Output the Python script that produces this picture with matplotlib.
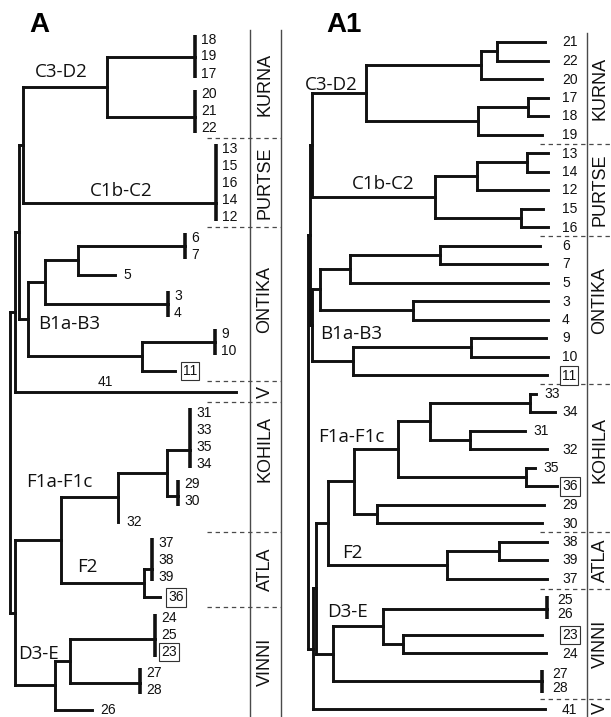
import matplotlib.pyplot as plt
from matplotlib.collections import LineCollection

plt.rcParams["font.family"] = ["Liberation Sans", "DejaVu Sans"]

# node = (depth, [children]); leaf = (depth, "id");
# collapsed leaves = (depth, ["id", ...]) or (depth, ["id", ...], attach index)
# depths are distances from the root of each tree
TREE_A = (0, [
    (5, [
        (9, [
            (13, [
                (97, [(185, ["18", "19", "17"]), (185, ["20", "21", "22"], 1.4)]),
                (206, ["13", "15", "16", "14", "12"], 3.2),
            ]),
            (18, [
                (35, [
                    (68, [(175, ["6", "7"]), (105, "5")]),
                    (158, ["3", "4"]),
                ]),
                (132, [(205, ["9", "10"]), (165, "11")]),
            ]),
        ]),
        (226, "41"),
    ]),
    (5, [
        (51, [
            (108, [
                (157, [(180, ["31", "33", "35", "34"], 2.2), (168, ["29", "30"], 0.7)]),
                (108, "32"),
            ]),
            (134, [(142, ["37", "38", "39"], 1.6), (150, "36")]),
        ]),
        (45, [
            (60, [(145, ["24", "25", "23"], 1.25), (130, ["27", "28"], 0.6)]),
            (82, "26"),
        ]),
    ]),
])

TREE_A1 = (0, [
    (2, [
        (4, [
            (58, [
                (173, [(189, [(237, "21"), (240, "22")]), (234, "20")]),
                (170, [(220, [(240, "17"), (240, "18")]), (234, "19")]),
            ]),
            (127, [
                (169, [(219, [(240, "13"), (240, "14")]), (240, "12")]),
                (213, [(235, "15"), (240, "16")]),
            ]),
        ]),
        (4, [
            (12, [
                (42, [(132, [(232, "6"), (239, "7")]), (240, "5")]),
                (105, [(240, "3"), (240, "4")]),
            ]),
            (45, [(163, [(238, "9"), (240, "10")]), (239, "11")]),
        ]),
    ]),
    (5, [
        (8, [
            (20, [
                (46, [
                    (90, [
                        (122, [(222, [(228, "33"), (247, "34")]),
                               (162, [(217, "31"), (239, "32")])]),
                        (218, [(227, "35"), (249, "36")]),
                    ]),
                    (69, [(236, "29"), (234, "30")]),
                ]),
                (139, [(191, [(239, "38"), (239, "39")]), (239, "37")]),
            ]),
            (25, [
                (75, [(239, ["25", "26"], 0.65), (95, [(234, "23"), (238, "24")])]),
                (234, ["27", "28"], 0.5),
            ]),
        ]),
        (237, "41"),
    ]),
])

GROUPS_A = ["KURNA", "PURTSE", "ONTIKA", "V", "KOHILA", "ATLA", "VINNI"]
GROUP_SIZES_A = [6, 5, 8, 1, 7, 4, 6]
GROUPS_A1 = ["KURNA", "PURTSE", "ONTIKA", "KOHILA", "ATLA", "VINNI", "V"]
GROUP_SIZES_A1 = [6, 5, 8, 8, 3, 6, 1]

BOXED = {"11", "36", "23"}

CLADES = ["C3-D2", "C1b-C2", "B1a-B3", "F1a-F1c", "F2", "D3-E"]
CLADE_POS_A = [(35, 72), (90, 191), (38, 324), (26, 482), (77, 567), (18, 654)]
CLADE_POS_A1 = [(305, 85), (352, 184), (320, 334), (318, 437), (342, 553), (327, 612)]

W, H = 611, 717
INK = "#111111"
GREY = "#4a4a4a"


def entries(node):
    kids = node[1]
    if isinstance(kids, str):
        return [[kids]]
    if isinstance(kids[0], str):
        return [list(kids)]
    out = []
    for k in kids:
        out += entries(k)
    return out


def leaf_y(tree, y0, y1, step_in, pad):
    ents = entries(tree)
    multi = [len(a) > 1 or len(b) > 1 for a, b in zip(ents, ents[1:])]
    n_in = sum(len(e) - 1 for e in ents)
    step = (y1 - y0 - n_in * step_in - sum(multi) * pad) / (len(ents) - 1)
    ys, y = {}, y0
    for i, e in enumerate(ents):
        if i:
            y += step + (pad if multi[i - 1] else 0)
        for j, lab in enumerate(e):
            ys[lab] = y + j * step_in
        y = ys[e[-1]]
    return ys, [lab for e in ents for lab in e]


def draw_tree(ax, tree, x0, ys, label_x, above=None):
    segs, bars, labels = [], [], []

    def walk(node, parent):
        depth, kids = node[0], node[1]
        x, xp = x0 + depth, x0 + parent
        if isinstance(kids, str):
            y = ys[kids]
            segs.append([(xp, y), (x, y)])
            labels.append((kids, x, y, False, xp))
            return y
        if isinstance(kids[0], str):
            first, last = ys[kids[0]], ys[kids[-1]]
            top, bot = first - 4, last + 5
            if len(node) > 2:
                y = first + node[2] * (last - first) / (len(kids) - 1)
            else:
                y = (top + bot) / 2
            bars.append([(x, top), (x, bot)])
            segs.append([(xp, y), (x, y)])
            for k in kids:
                labels.append((k, x, ys[k], True, xp))
            return y
        cy = [walk(k, depth) for k in kids]
        segs.append([(x, min(cy)), (x, max(cy))])
        y = (min(cy) + max(cy)) / 2
        if depth != parent:
            segs.append([(xp, y), (x, y)])
        return y

    walk(tree, tree[0])
    ax.add_collection(LineCollection(segs, colors=INK, linewidths=2.1,
                                     capstyle="projecting", joinstyle="miter"))
    ax.add_collection(LineCollection(bars, colors=INK, linewidths=2.6,
                                     capstyle="butt"))
    for lab, x, y, grouped, xp in labels:
        kw = dict(fontsize=10, va="center", ha="left", color=INK)
        if lab in BOXED:
            kw["bbox"] = dict(boxstyle="square,pad=0.15", fc="white", ec="#333333", lw=0.8)
        if above and lab in above:
            ax.text(xp + above[lab] * (x - xp), y - 9, lab, **dict(kw, ha="center"))
        else:
            ax.text(label_x(x, grouped), y + 0.5, lab, **kw)


def draw_groups(ax, names, sizes, order, ys, top, dash_x, col_lines, lab_x, shifts):
    bounds, idx = [top], 0
    for s in sizes[:-1]:
        idx += s
        b = (ys[order[idx - 1]] + ys[order[idx]]) / 2
        bounds.append(b)
        ax.plot(dash_x, [b, b], ls=(0, (3.5, 3)), color=GREY, lw=0.9)
    bounds.append(H)
    for xl in col_lines:
        ax.plot([xl, xl], [top, H], color=GREY, lw=1.0)
    for name, a, b, sh in zip(names, bounds, bounds[1:], shifts):
        ax.text(lab_x, (a + b) / 2 + sh, name, rotation=90, ha="center",
                va="center", fontsize=13, color=INK)


fig = plt.figure(figsize=(W / 100, H / 100), dpi=100)
ax = fig.add_axes([0, 0, 1, 1])
ax.set_xlim(0, W)
ax.set_ylim(H, 0)
ax.axis("off")

# panel A
ys_a, order_a = leaf_y(TREE_A, 39, 710, 17, 0)
draw_tree(ax, TREE_A, 10, ys_a,
          lambda x, g: x + (6 if g else 8), above={"41": 0.41})
draw_groups(ax, GROUPS_A, GROUP_SIZES_A, order_a, ys_a, 30, [207, 281],
            [250, 281], 265, [0, 0, -4, 0, -18, 0, 0])
for name, (x, y) in zip(CLADES, CLADE_POS_A):
    ax.text(x, y, name, family="Open Sans", fontsize=13.5, ha="left", va="center", color=INK)
ax.text(29, 25, "A", fontsize=20, fontweight="bold", ha="left", va="center")

# panel A1
ys_b, order_b = leaf_y(TREE_A1, 42, 709, 14, 2.5)
draw_tree(ax, TREE_A1, 308, ys_b,
          lambda x, g: x + 10 if g else (x + 8 if x < 540 else 562))
draw_groups(ax, GROUPS_A1, GROUP_SIZES_A1, order_b, ys_b, 33, [540, W],
            [587], 600, [0, 0, -10, -8, 0, 0, 0])
for name, (x, y) in zip(CLADES, CLADE_POS_A1):
    ax.text(x, y, name, family="Open Sans", fontsize=13.5, ha="left", va="center", color=INK)
ax.text(326, 25, "A1", fontsize=20, fontweight="bold", ha="left", va="center")

fig.savefig("out.png", dpi=100, facecolor="white")
